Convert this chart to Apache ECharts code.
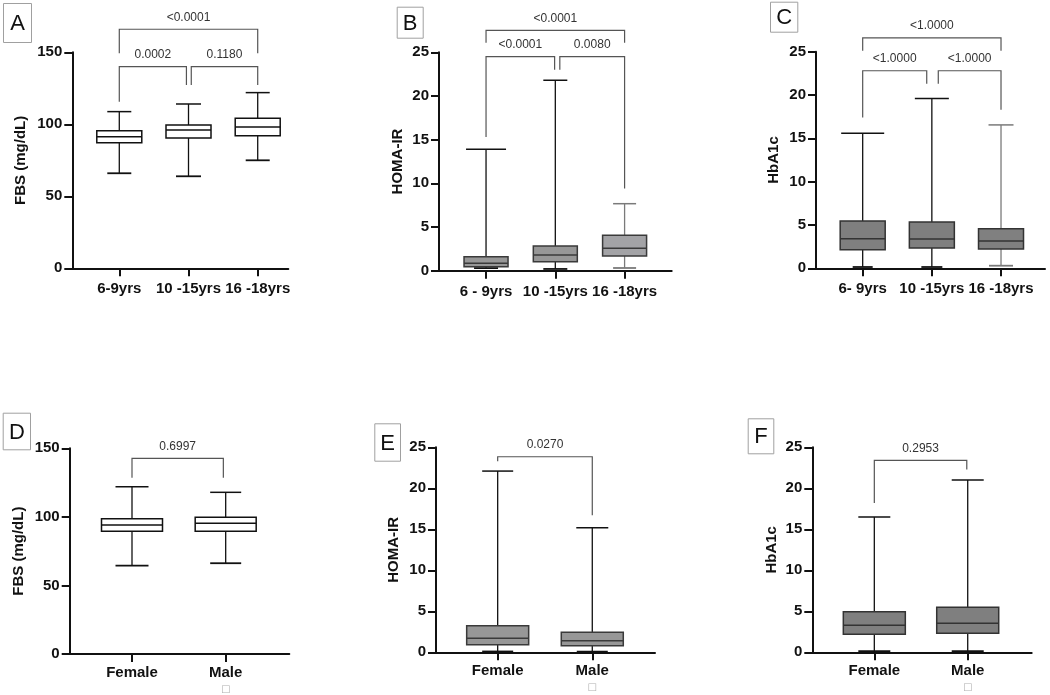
<!DOCTYPE html>
<html>
<head>
<meta charset="utf-8">
<script src="https://cdn.jsdelivr.net/npm/echarts@6/dist/echarts.min.js"></script>
<style>
html,body{margin:0;padding:0;background:#fff;}
#chart{width:1050px;height:695px;}
</style>
</head>
<body>
<div id="chart"></div>
<script>
// ---------- DATA ----------
// box stats: [min, Q1, median, Q3, max]
const catsA = ['6-9yrs', '10 -15yrs', '16 -18yrs'];
const fbsByAge = [[66, 87.2, 91.4, 95.6, 108.8], [63.9, 90.5, 96, 99.5, 114.1], [75, 92.1, 98.1, 104.2, 122]];
const catsB = ['6 - 9yrs', '10 -15yrs', '16 -18yrs'];
const homaByAge = [[0.3, 0.46, 0.85, 1.6, 13.9], [0.2, 1.03, 1.8, 2.83, 21.8], [0.31, 1.68, 2.56, 4.05, 7.67]];
const catsC = ['6- 9yrs', '10 -15yrs', '16 -18yrs'];
const hba1cByAge = [[0.15, 2.15, 3.42, 5.46, 15.6], [0.15, 2.34, 3.38, 5.35, 19.6], [0.3, 2.23, 3.15, 4.57, 16.55]];
const catsSex = ['Female', 'Male'];
const fbsBySex = [[64.4, 89.5, 94.1, 98.7, 122], [66.2, 89.5, 95.3, 99.7, 117.9]];
const homaBySex = [[0.1, 0.93, 1.7, 3.24, 22.1], [0.08, 0.8, 1.42, 2.44, 15.2]];
const hba1cBySex = [[0.15, 2.2, 3.29, 4.95, 16.5], [0.15, 2.32, 3.54, 5.49, 21.0]];

// significance brackets: [fromCat, toCat, barValue, leftLegEnd, rightLegEnd]
const bracketsA = [[0, 0.97, 140, 115.7, 127.3], [1.04, 2, 140, 127.3, 127.3], [0, 2, 166, 149.3, 149.3]];
const pLabelsA = ['0.0002', '0.1180', '<0.0001'];
const bracketsB = [[0, 0.99, 24.5, 15.3, 23], [1.065, 2, 24.5, 23, 9.4], [0, 2, 27.5, 26.1, 26.1]];
const pLabelsB = ['<0.0001', '0.0080', '<0.0001'];
const bracketsC = [[0, 0.926, 22.8, 17.4, 21.3], [1.093, 2, 22.8, 21.3, 18.3], [0, 2, 26.6, 25.1, 25.1]];
const pLabelsC = ['<1.0000', '<1.0000', '<1.0000'];
const bracketsD = [[0, 0.975, 142.7, 128.6, 128.6]];
const pLabelsD = ['0.6997'];
const bracketsE = [[0, 1, 23.85, 23.3, 16.7]];
const pLabelsE = ['0.0270'];
const bracketsF = [[0, 0.99, 23.4, 18.2, 22.3]];
const pLabelsF = ['0.2953'];

const yTicksFBS = [0, 50, 100, 150];
const yTicksOther = [0, 5, 10, 15, 20, 25];

// ---------- LAYOUT / STYLE ----------
const FONT = 'Liberation Sans, Arial, sans-serif';
const panels = [
  { letter: 'A', cats: catsA, stats: fbsByAge, br: bracketsA, pl: pLabelsA, name: 'FBS (mg/dL)', ticks: yTicksFBS,
    grid: { left: 72.3, top: 52.3, width: 216, height: 216 }, xMin: -0.679, xMax: 2.442, nameGap: 44, labMargin: 12,
    boxW: 45, capW: [24, 25, 24], minCapW: [24, 25, 24], fill: ['#ffffff', '#ffffff', '#ffffff'], stroke: '#111',
    whisker: ['#111', '#111', '#111'], tag: [3, 3, 28, 39] },
  { letter: 'B', cats: catsB, stats: homaByAge, br: bracketsB, pl: pLabelsB, name: 'HOMA-IR', ticks: yTicksOther,
    grid: { left: 439, top: 52.3, width: 232.7, height: 218.4 }, xMin: -0.679, xMax: 2.68, nameGap: 34, labMargin: 12,
    boxW: 44, capW: [40, 24, 23], minCapW: [24, 24, 23], fill: ['#979797', '#979797', '#a3a3a6'], stroke: '#3a3a3a',
    whisker: ['#111', '#111', '#7a7a7a'], tag: [396.7, 6.7, 26, 31] },
  { letter: 'C', cats: catsC, stats: hba1cByAge, br: bracketsC, pl: pLabelsC, name: 'HbA1c', ticks: yTicksOther,
    grid: { left: 816, top: 51.7, width: 229, height: 216.6 }, xMin: -0.675, xMax: 2.636, nameGap: 35, labMargin: 12,
    boxW: 45, capW: [43, 34, 25], minCapW: [20, 21, 24], fill: ['#7f7f7f', '#7f7f7f', '#808080'], stroke: '#333',
    whisker: ['#111', '#111', '#7a7a7a'], tag: [770, 1.7, 27.3, 30] },
  { letter: 'D', cats: catsSex, stats: fbsBySex, br: bracketsD, pl: pLabelsD, name: 'FBS (mg/dL)', ticks: yTicksFBS,
    grid: { left: 69.7, top: 448.3, width: 219.6, height: 205.7 }, xMin: -0.665, xMax: 1.679, nameGap: 43, labMargin: 10,
    boxW: 61, capW: [33, 31], minCapW: [33, 31], fill: ['#ffffff', '#ffffff'], stroke: '#111',
    whisker: ['#111', '#111'], tag: [2.7, 412.7, 27.3, 36.6] },
  { letter: 'E', cats: catsSex, stats: homaBySex, br: bracketsE, pl: pLabelsE, name: 'HOMA-IR', ticks: yTicksOther,
    grid: { left: 436, top: 447.3, width: 219, height: 205 }, xMin: -0.652, xMax: 1.663, nameGap: 35, labMargin: 10,
    boxW: 62, capW: [31, 32], minCapW: [31, 31], fill: ['#979797', '#979797'], stroke: '#3a3a3a',
    whisker: ['#111', '#111'], tag: [374.3, 423.3, 25.7, 37.4] },
  { letter: 'F', cats: catsSex, stats: hba1cBySex, br: bracketsF, pl: pLabelsF, name: 'HbA1c', ticks: yTicksOther,
    grid: { left: 812.3, top: 447.3, width: 219.4, height: 205 }, xMin: -0.664, xMax: 1.685, nameGap: 33, labMargin: 10,
    boxW: 62, capW: [32, 32], minCapW: [32, 32], fill: ['#7f7f7f', '#7f7f7f'], stroke: '#333',
    whisker: ['#111', '#111'], tag: [747.7, 418.3, 25.6, 35] }
];

function boxRender(P) {
  return function (params, api) {
    const i = params.dataIndex;
    const x = api.value(0);
    const pMin = api.coord([x, api.value(1)]);
    const pQ1 = api.coord([x, api.value(2)]);
    const pMd = api.coord([x, api.value(3)]);
    const pQ3 = api.coord([x, api.value(4)]);
    const pMx = api.coord([x, api.value(5)]);
    const cx = pMin[0], hw = P.boxW / 2, cw = P.capW[i] / 2, mcw = P.minCapW[i] / 2;
    const wc = P.whisker[i];
    return {
      type: 'group',
      children: [
        { type: 'line', shape: { x1: cx, y1: pQ3[1], x2: cx, y2: pMx[1] }, style: { stroke: wc, lineWidth: 1.3 } },
        { type: 'line', shape: { x1: cx, y1: pMin[1], x2: cx, y2: pQ1[1] }, style: { stroke: wc, lineWidth: 1.3 } },
        { type: 'line', shape: { x1: cx - cw, y1: pMx[1], x2: cx + cw, y2: pMx[1] }, style: { stroke: wc, lineWidth: 1.5 } },
        { type: 'line', shape: { x1: cx - mcw, y1: pMin[1], x2: cx + mcw, y2: pMin[1] }, style: { stroke: wc, lineWidth: 1.8 } },
        { type: 'rect', shape: { x: cx - hw, y: pQ3[1], width: P.boxW, height: pQ1[1] - pQ3[1] },
          style: { fill: P.fill[i], stroke: P.stroke, lineWidth: 1.5 } },
        { type: 'line', shape: { x1: cx - hw, y1: pMd[1], x2: cx + hw, y2: pMd[1] }, style: { stroke: P.stroke, lineWidth: 1.5 } }
      ]
    };
  };
}

function bracketRender(P) {
  return function (params, api) {
    const i = params.dataIndex;
    const x1 = api.value(0), x2 = api.value(1), yt = api.value(2), yl = api.value(3), yr = api.value(4);
    const a = api.coord([x1, yl]), b = api.coord([x1, yt]), c = api.coord([x2, yt]), d = api.coord([x2, yr]);
    return {
      type: 'group',
      children: [
        { type: 'polyline', shape: { points: [a, b, c, d] }, style: { stroke: '#555', lineWidth: 1.2, fill: 'none' } },
        { type: 'text', style: { text: P.pl[i], x: (b[0] + c[0]) / 2, y: b[1] - 12, align: 'center', verticalAlign: 'middle',
          font: '12px ' + FONT, fill: '#333' } }
      ]
    };
  };
}

const grids = [], xAxes = [], yAxes = [], series = [], graphics = [];
panels.forEach(function (P, k) {
  grids.push(Object.assign({ containLabel: false }, P.grid));
  const catIdx = P.cats.map(function (_, i) { return i; });
  xAxes.push({
    gridIndex: k, type: 'value', min: P.xMin, max: P.xMax,
    axisLine: { show: true, onZero: false, lineStyle: { color: '#111', width: 2 } },
    axisTick: { show: true, customValues: catIdx, length: 8, lineStyle: { color: '#111', width: 2 } },
    axisLabel: {
      show: true, customValues: catIdx, margin: P.labMargin,
      formatter: function (v) {
        const name = P.cats[Math.round(v)];
        return name === 'Male' ? '{a|' + name + '}\n{b|\u25A1}' : '{a|' + name + '}';
      },
      rich: {
        a: { fontFamily: FONT, fontWeight: 'bold', fontSize: 15, color: '#111', lineHeight: 18 },
        b: { fontFamily: 'DejaVu Sans', fontSize: 10, color: '#b0b0b0', lineHeight: 14 }
      }
    },
    splitLine: { show: false }
  });
  yAxes.push({
    gridIndex: k, type: 'value', min: 0, max: P.ticks[P.ticks.length - 1], interval: P.ticks[1] - P.ticks[0],
    axisLine: { show: true, onZero: false, lineStyle: { color: '#111', width: 2 } },
    axisTick: { show: true, length: 8, lineStyle: { color: '#111', width: 2 } },
    axisLabel: { fontFamily: FONT, fontWeight: 'bold', fontSize: 15, color: '#111', margin: 10 },
    splitLine: { show: false },
    name: P.name, nameLocation: 'middle', nameGap: P.nameGap,
    nameTextStyle: { fontFamily: FONT, fontWeight: 'bold', fontSize: 15, color: '#111' }
  });
  series.push({
    type: 'custom', xAxisIndex: k, yAxisIndex: k, clip: false, silent: true,
    renderItem: boxRender(P),
    encode: { x: 0, y: [1, 2, 3, 4, 5] },
    data: P.stats.map(function (s, i) { return [i].concat(s); })
  });
  series.push({
    type: 'custom', xAxisIndex: k, yAxisIndex: k, clip: false, silent: true,
    renderItem: bracketRender(P),
    encode: { x: [0, 1], y: [2, 3, 4] },
    data: P.br
  });
  const t = P.tag;
  graphics.push({ type: 'rect', shape: { x: t[0] + 0.5, y: t[1] + 0.5, width: t[2], height: t[3] },
    style: { fill: '#fff', stroke: '#a0a0a0', lineWidth: 1 } });
  graphics.push({ type: 'text', style: { text: P.letter, x: t[0] + t[2] / 2 + 0.5, y: t[1] + t[3] / 2 + 1.5,
    align: 'center', verticalAlign: 'middle', font: '22px ' + FONT, fill: '#111' } });
});

const chart = echarts.init(document.getElementById('chart'), null, { renderer: 'canvas' });
chart.setOption({
  animation: false,
  backgroundColor: '#ffffff',
  grid: grids,
  xAxis: xAxes,
  yAxis: yAxes,
  series: series,
  graphic: graphics
});
</script>
</body>
</html>
